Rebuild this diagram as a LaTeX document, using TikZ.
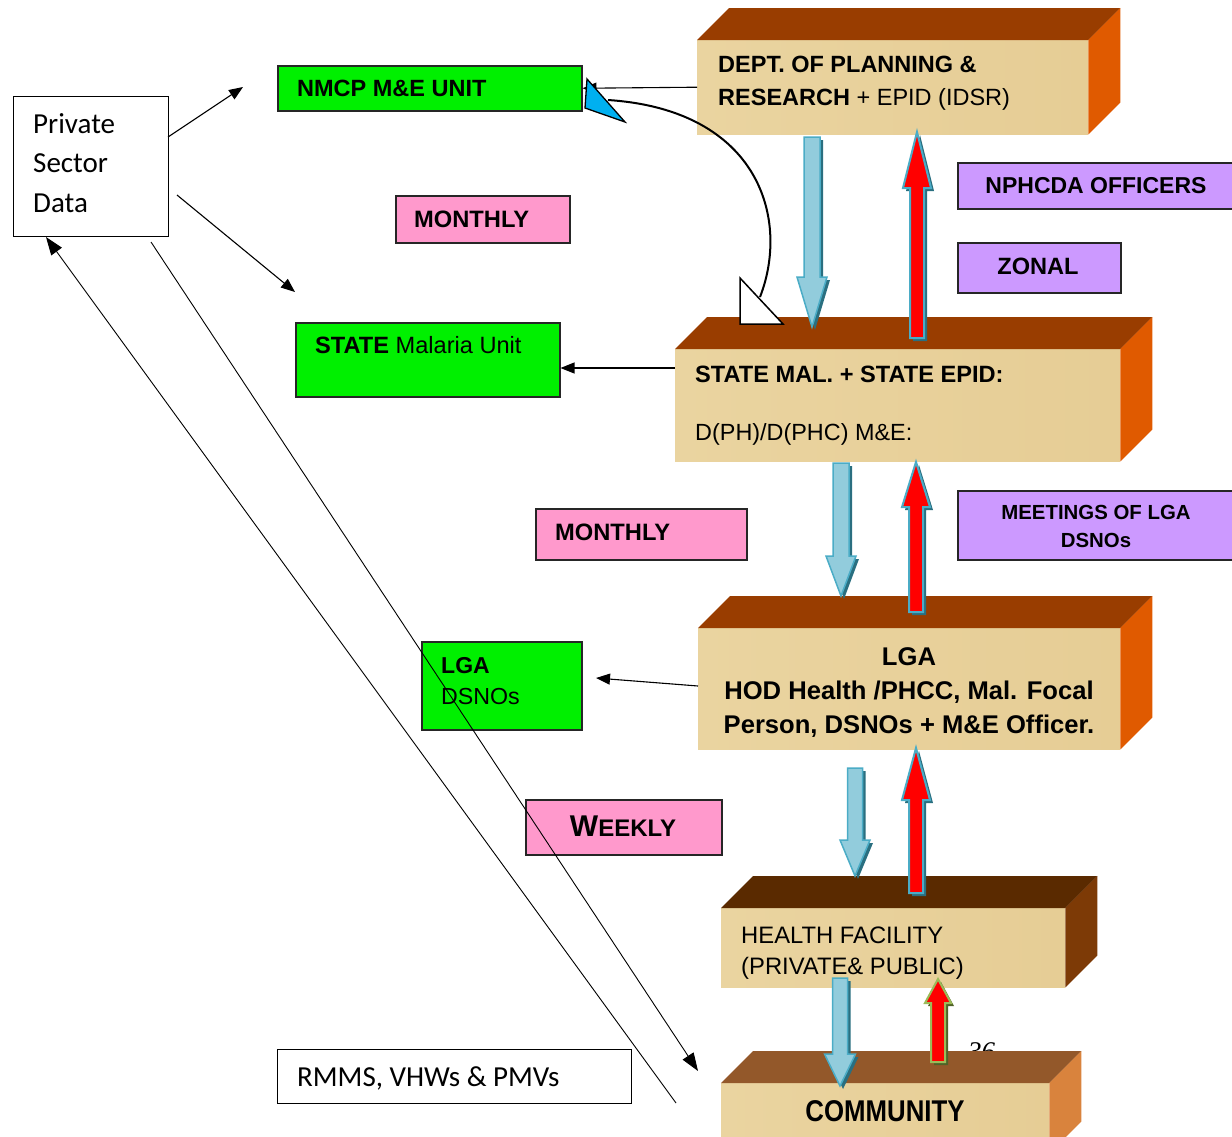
\documentclass[tikz,border=0pt]{standalone}
\usepackage{fontspec}
\setmainfont{Liberation Sans}
\newfontfamily\calfont{Carlito}
\newfontfamily\narrowfont[FakeStretch=0.86]{Liberation Sans}
\newfontfamily\serifit{Liberation Serif}
\usetikzlibrary{arrows.meta,calc}
\newcommand\fsz[1]{\fontsize{#1}{#1}\selectfont}
\definecolor{topc}{HTML}{993D00}
\definecolor{sidec}{HTML}{E05A00}
\definecolor{topd}{HTML}{5A2A00}
\definecolor{sided}{HTML}{7D3A06}
\definecolor{tope}{HTML}{93582A}
\definecolor{sidee}{HTML}{D9833D}
\definecolor{facea}{HTML}{EAD4A0}
\definecolor{faceb}{HTML}{E6CD95}
\definecolor{greenc}{HTML}{00F000}
\definecolor{pinkc}{HTML}{FF99CC}
\definecolor{purpc}{HTML}{CC99FF}
\definecolor{bla}{HTML}{92CCDC}
\definecolor{blb}{HTML}{4BACC6}
\definecolor{blo}{HTML}{4BACC6}
\definecolor{shd}{HTML}{2A6F80}
\definecolor{triblue}{HTML}{00B0F0}
\definecolor{grno}{HTML}{9BBB59}
\definecolor{grns}{HTML}{4F6228}
\newcommand\blockthree[3]{%
  \fill[#2] (#1.north west) -- ++(32,-32) -- ($(#1.north east)+(32,-32)$) -- (#1.north east) -- cycle;
  \fill[#3] (#1.north east) -- ++(32,-32) -- ($(#1.south east)+(32,-32)$) -- (#1.south east) -- cycle;}
% #1 cx, #2 top y, #3 tip y, #4 shaft hw, #5 head hw, #6 head len
\newcommand\blkdown[6]{%
  \fill[shd] ({#1-#4+3},{#2+3}) -- ({#1+#4+3},{#2+3}) -- ({#1+#4+3},{#3-#6+3}) -- ({#1+#5+3},{#3-#6+3}) -- ({#1+3},{#3+3}) -- ({#1-#5+3},{#3-#6+3}) -- ({#1-#4+3},{#3-#6+3}) -- cycle;
  \shadedraw[top color=bla, middle color=blb, bottom color=bla, draw=blo, line width=1.5] ({#1-#4},{#2}) -- ({#1+#4},{#2}) -- ({#1+#4},{#3-#6}) -- ({#1+#5},{#3-#6}) -- ({#1},{#3}) -- ({#1-#5},{#3-#6}) -- ({#1-#4},{#3-#6}) -- cycle;}
% #1 cx, #2 bottom y, #3 tip y, #4 shaft hw, #5 head hw, #6 head len, #7 outline, #8 shadow
\newcommand\blkup[8]{%
  \fill[#8] ({#1-#4+3},{#2+3}) -- ({#1+#4+3},{#2+3}) -- ({#1+#4+3},{#3+#6+3}) -- ({#1+#5+3},{#3+#6+3}) -- ({#1+3},{#3+3}) -- ({#1-#5+3},{#3+#6+3}) -- ({#1-#4+3},{#3+#6+3}) -- cycle;
  \filldraw[fill=red, draw=#7, line width=2] ({#1-#4},{#2}) -- ({#1+#4},{#2}) -- ({#1+#4},{#3+#6}) -- ({#1+#5},{#3+#6}) -- ({#1},{#3}) -- ({#1-#5},{#3+#6}) -- ({#1-#4},{#3+#6}) -- cycle;}
\tikzset{
  face/.style={anchor=north west, inner sep=0, left color=facea, right color=faceb},
  gbox/.style={anchor=north west, inner sep=0, fill=greenc, draw=black!85, line width=1.5},
  pbox/.style={anchor=north west, inner sep=0, fill=pinkc, draw=black!85, line width=1.5},
  vbox/.style={anchor=north west, inner sep=0, fill=purpc, draw=black!85, line width=1.5},
  wbox/.style={anchor=north west, inner sep=0, fill=white, draw=black, line width=1.3},
  txt/.style={anchor=base west, inner sep=0},
  ctxt/.style={anchor=base, inner sep=0},
  conn/.style={line width=1.1, -{Triangle[length=14,width=11]}},
  thin/.style={line width=0.9}
}
\begin{document}
\begin{tikzpicture}[x=1pt,y=-1pt]
\useasboundingbox (0,0) rectangle (1232,1136);

% page number partly hidden
\node[txt, font=\serifit\itshape\fsz{27}] (pg) at (968,1060) {36};

% 3D blocks
\node[face, minimum width=391, minimum height=94] (dept) at (697,40) {};
\blockthree{dept}{topc}{sidec}
\node[face, minimum width=445, minimum height=112] (state) at (675,349) {};
\blockthree{state}{topc}{sidec}
\node[face, minimum width=422, minimum height=121] (lga) at (698,628) {};
\blockthree{lga}{topc}{sidec}
\node[face, minimum width=344, minimum height=79] (hf) at (721,908) {};
\blockthree{hf}{topd}{sided}
\node[face, minimum width=328, minimum height=70] (comm) at (721,1083) {};
\blockthree{comm}{tope}{sidee}

% block texts
\node[txt, font=\bfseries\fsz{23.5}] (deptt1) at (718,72) {DEPT. OF PLANNING \&};
\node[txt, font=\fsz{23.5}] (deptt2) at (718,105) {\textbf{RESEARCH} + EPID (IDSR)};
\node[txt, font=\bfseries\fsz{23.6}] (statet1) at (695,382) {STATE MAL. + STATE EPID:};
\node[txt, font=\fsz{23.4}] (statet2) at (695,440) {D(PH)/D(PHC) M\&E:};
\node[ctxt, font=\bfseries\fsz{25.6}] (lgat1) at (909,665) {LGA};
\node[ctxt, font=\bfseries\fsz{25.6}] (lgat2) at (909,699) {HOD Health /PHCC, Mal. Focal};
\node[ctxt, font=\bfseries\fsz{25.6}] (lgat3) at (909,733) {Person, DSNOs + M\&E Officer.};
\node[txt, font=\fsz{23.8}] (hft1) at (741,943) {HEALTH FACILITY};
\node[txt, font=\fsz{23.8}] (hft2) at (741,974) {(PRIVATE\& PUBLIC)};
\node[ctxt, font=\narrowfont\bfseries\fsz{30}] (commt) at (885,1121) {COMMUNITY};

% green boxes
\node[gbox, minimum width=304, minimum height=45] (nmcp) at (277,65) {};
\node[txt, font=\bfseries\fsz{23.5}] (nmcpt) at (297,96) {NMCP M\&E UNIT};
\node[gbox, minimum width=264, minimum height=74] (smu) at (295,322) {};
\node[txt, font=\fsz{23.6}] (smut) at (315,353) {\textbf{STATE} Malaria Unit};
\node[gbox, minimum width=160, minimum height=88] (lgag) at (421,641) {};
\node[txt, font=\bfseries\fsz{23}] (lgagt1) at (441,673) {LGA};
\node[txt, font=\fsz{23.2}] (lgagt2) at (441,704) {DSNOs};

% pink boxes
\node[pbox, minimum width=174, minimum height=47] (mon1) at (395,195) {};
\node[txt, font=\bfseries\fsz{23.7}] (mon1t) at (414,227) {MONTHLY};
\node[pbox, minimum width=211, minimum height=51] (mon2) at (535,508) {};
\node[txt, font=\bfseries\fsz{23.7}] (mon2t) at (555,540) {MONTHLY};
\node[pbox, minimum width=196, minimum height=55] (week) at (525,799) {};
\node[ctxt, font=\bfseries] (weekt) at (623,836) {\fsz{30}W\fsz{24}EEKLY};

% purple boxes
\node[vbox, minimum width=290, minimum height=46] (nph) at (957,162) {};
\node[ctxt, font=\bfseries\fsz{23}] (npht) at (1096,193) {NPHCDA OFFICERS};
\node[vbox, minimum width=163, minimum height=50] (zon) at (957,242) {};
\node[ctxt, font=\bfseries\fsz{23.6}] (zont) at (1038,274) {ZONAL};
\node[vbox, minimum width=290, minimum height=69] (meet) at (957,490) {};
\node[ctxt, font=\bfseries\fsz{20.4}] (meett1) at (1096,519) {MEETINGS OF LGA};
\node[ctxt, font=\bfseries\fsz{20.4}] (meett2) at (1096,547) {DSNOs};

% white boxes
\node[wbox, minimum width=155, minimum height=140] (priv) at (13,96) {};
\node[txt, font=\calfont\fsz{29}] (privt1) at (33,133) {Private};
\node[txt, font=\calfont\fsz{29}] (privt2) at (33,172) {Sector};
\node[txt, font=\calfont\fsz{29}] (privt3) at (33,212) {Data};
\node[wbox, minimum width=354, minimum height=54] (rmms) at (277,1049) {};
\node[txt, font=\calfont\fsz{29}] (rmmst) at (297,1086) {RMMS, VHWs \& PMVs};

% block arrows
\blkdown{812}{137}{327}{8}{15}{50}
\blkup{917}{338}{132}{7}{14}{56}{blo}{shd}
\blkdown{841}{463}{596}{8}{15}{40}
\blkup{916}{612}{462}{7}{14}{45}{blo}{shd}
\blkdown{855}{768}{876}{7.5}{15}{36}
\blkup{916}{893}{748}{7}{14}{52}{blo}{shd}
\blkdown{840}{978}{1086}{7.5}{15.5}{32}
\blkup{938}{1062}{979}{7}{13}{24}{grno}{grns}

% thin connectors
\coordinate (p1) at (168,137);
\coordinate (p1e) at (243,87);
\coordinate (p2) at (177,195);
\coordinate (p2e) at (295,292);
\draw[conn] (p1) -- (p1e);
\draw[conn] (p2) -- (p2e);
\draw[conn] (dept.west) -- (nmcp.east);
\coordinate (s1) at (675,368);
\draw[conn] (s1) -- (smu.east |- s1);
\coordinate (l1) at (698,686);
\coordinate (l1e) at (596,678);
\draw[conn] (l1) -- (l1e);
\coordinate (c1) at (151,242);
\coordinate (c1e) at (698,1071);
\draw[thin, -{Triangle[length=18,width=13]}] (c1) -- (c1e);
\coordinate (c2) at (676,1103);
\coordinate (c2e) at (46,237);
\draw[thin, -{Triangle[length=18,width=13]}] (c2) -- (c2e);

% curved feedback arrow
\coordinate (cs) at (760,297);
\coordinate (ce) at (608,100);
\draw[line width=2] (cs) .. controls (790,220) and (760,110) .. (ce);
\filldraw[fill=triblue, draw=black, line width=1.3] (587,79) -- (625,122) -- (585,108) -- cycle;
\filldraw[fill=white, draw=black, line width=1.5] (740,278) -- (783,324) -- (740,324) -- cycle;
\end{tikzpicture}
\end{document}
